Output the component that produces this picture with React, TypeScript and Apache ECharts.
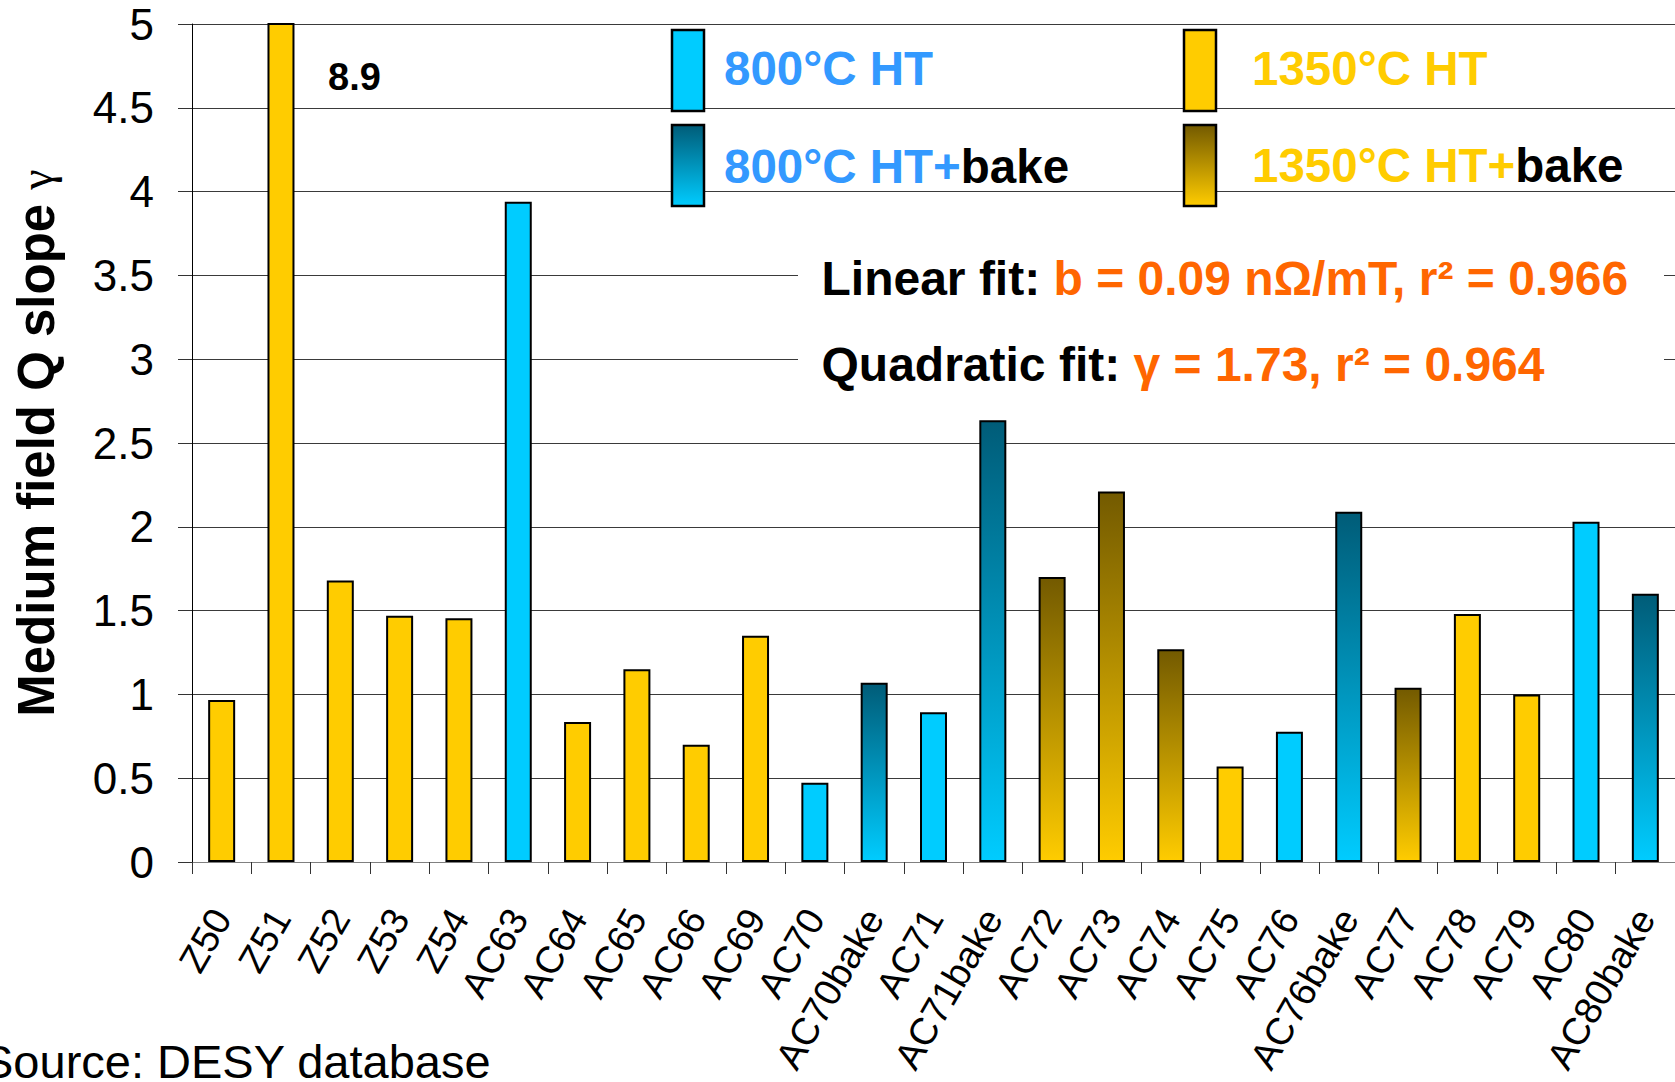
import React, { useEffect, useRef } from "react";
import * as echarts from "echarts";

const categories = [
  "Z50", "Z51", "Z52", "Z53", "Z54", "AC63", "AC64", "AC65", "AC66", "AC69",
  "AC70", "AC70bake", "AC71", "AC71bake", "AC72", "AC73", "AC74", "AC75", "AC76",
  "AC76bake", "AC77", "AC78", "AC79", "AC80", "AC80bake",
];
const slopes = [
  0.967, 8.9, 1.68, 1.47, 1.455, 3.94, 0.835, 1.15, 0.7, 1.35,
  0.473, 1.07, 0.893, 2.635, 1.7, 2.21, 1.27, 0.57, 0.777,
  2.09, 1.04, 1.48, 1.0, 2.03, 1.6,
];
const treatments = [
  "1350", "1350", "1350", "1350", "1350", "800", "1350", "1350", "1350", "1350",
  "800", "800bake", "800", "800bake", "1350bake", "1350bake", "1350bake", "1350", "800",
  "800bake", "1350bake", "1350", "1350", "800", "800bake",
];
const outOfRangeLabel = "8.9";
const legendItems = [
  { key: "800", main: "800°C HT", suffix: "" },
  { key: "800bake", main: "800°C HT+", suffix: "bake" },
  { key: "1350", main: "1350°C HT", suffix: "" },
  { key: "1350bake", main: "1350°C HT+", suffix: "bake" },
];
const linearFitLabel = "Linear fit: ";
const linearFitValue = "b = 0.09 nΩ/mT, r² = 0.966";
const quadFitLabel = "Quadratic fit: ";
const quadFitValue = "γ = 1.73, r² = 0.964";
const sourceNote = "Source: DESY database";

const FONT = "'Liberation Sans', Arial, sans-serif";
const CYAN = "#00CCFF";
const YELLOW = "#FFCC00";
const CYAN_DARK = "#005C78";
const YELLOW_DARK = "#735A00";
const BLUE_TEXT = "#3399FF";
const ORANGE = "#FF6600";

function fillFor(t: string) {
  if (t === "800") return CYAN;
  if (t === "1350") return YELLOW;
  if (t === "800bake")
    return new echarts.graphic.LinearGradient(0, 0, 0, 1, [
      { offset: 0, color: CYAN_DARK },
      { offset: 1, color: CYAN },
    ]);
  return new echarts.graphic.LinearGradient(0, 0, 0, 1, [
    { offset: 0, color: YELLOW_DARK },
    { offset: 1, color: YELLOW },
  ]);
}

export default function App() {
  const ref = useRef<HTMLDivElement>(null);
  useEffect(() => {
    if (!ref.current) return;
    const chart = echarts.init(ref.current, undefined, { renderer: "svg" });

    const barData = slopes.map((v, i) => ({
      value: v,
      itemStyle: { color: fillFor(treatments[i]), borderColor: "#000", borderWidth: 2 },
    }));

    const swatchPos = [
      { x: 672, y: 30, tx: 724, ty: 68.5 },
      { x: 672, y: 125, tx: 724, ty: 166.5 },
      { x: 1184, y: 30, tx: 1252, ty: 68.5 },
      { x: 1184, y: 125, tx: 1252, ty: 165 },
    ];
    const legendGraphics: any[] = [];
    legendItems.forEach((it, i) => {
      const p = swatchPos[i];
      legendGraphics.push({
        type: "rect",
        z: 20,
        shape: { x: p.x, y: p.y, width: 32, height: 81 },
        style: { fill: fillFor(it.key), stroke: "#000", lineWidth: 2.5 },
      });
      const col = it.key.startsWith("800") ? BLUE_TEXT : YELLOW;
      legendGraphics.push({
        type: "text",
        z: 20,
        x: p.tx,
        y: p.ty,
        style: {
          text: `{m|${it.main}}` + (it.suffix ? `{s|${it.suffix}}` : ""),
          verticalAlign: "middle",
          align: "left",
          rich: {
            m: { fontFamily: FONT, fontWeight: "bold", fontSize: 47.5, fill: col },
            s: { fontFamily: FONT, fontWeight: "bold", fontSize: 47.5, fill: "#000" },
          },
        },
      });
    });

    const option: any = {
      animation: false,
      backgroundColor: "#fff",
      grid: { left: 192, right: 0, top: 24, bottom: 220, containLabel: false },
      xAxis: {
        type: "category",
        data: categories,
        axisLine: { lineStyle: { color: "#808080", width: 1 } },
        axisTick: { show: true, length: 12, lineStyle: { color: "#333" } },
        axisLabel: {
          rotate: 60,
          interval: 0,
          fontSize: 38,
          color: "#000",
          fontFamily: FONT,
          margin: 50,
        },
      },
      yAxis: {
        type: "value",
        min: 0,
        max: 5,
        interval: 0.5,
        axisLine: { show: true, lineStyle: { color: "#000", width: 1 } },
        axisTick: { show: true, length: 14, lineStyle: { color: "#333" } },
        splitLine: { show: true, lineStyle: { color: "#3a3a3a", width: 1 } },
        axisLabel: { fontSize: 44, color: "#000", fontFamily: FONT, margin: 38 },
        name: "{b|Medium field Q slope }{g|γ}",
        nameLocation: "middle",
        nameGap: 130,
        nameTextStyle: {
          rich: {
            b: { fontFamily: FONT, fontWeight: "bold", fontSize: 51, color: "#000" },
            g: { fontFamily: "'Liberation Serif', serif", fontSize: 46, color: "#000" },
          },
        },
      },
      series: [
        {
          type: "bar",
          data: barData,
          barWidth: 27,
          clip: true,
        },
      ],
      graphic: [
        {
          type: "rect",
          z: 10,
          shape: { x: 798, y: 242, width: 866, height: 156 },
          style: { fill: "#fff" },
        },
        {
          type: "text",
          z: 20,
          x: 821.5,
          y: 278,
          style: {
            text: `{k|${linearFitLabel}}{o|${linearFitValue}}`,
            verticalAlign: "middle",
            rich: {
              k: { fontFamily: FONT, fontWeight: "bold", fontSize: 48, fill: "#000" },
              o: { fontFamily: FONT, fontWeight: "bold", fontSize: 48, fill: ORANGE },
            },
          },
        },
        {
          type: "text",
          z: 20,
          x: 821.5,
          y: 364,
          style: {
            text: `{k|${quadFitLabel}}{o|${quadFitValue}}`,
            verticalAlign: "middle",
            rich: {
              k: { fontFamily: FONT, fontWeight: "bold", fontSize: 48, fill: "#000" },
              o: { fontFamily: FONT, fontWeight: "bold", fontSize: 48, fill: ORANGE },
            },
          },
        },
        {
          type: "text",
          z: 20,
          x: 328,
          y: 77,
          style: {
            text: outOfRangeLabel,
            verticalAlign: "middle",
            fontFamily: FONT,
            fontWeight: "bold",
            fontSize: 38,
            fill: "#000",
          },
        },
        {
          type: "text",
          z: 20,
          x: -18,
          y: 1061,
          style: {
            text: sourceNote,
            verticalAlign: "middle",
            fontFamily: FONT,
            fontSize: 47,
            fill: "#000",
          },
        },
        ...legendGraphics,
      ],
    };
    chart.setOption(option);
    return () => chart.dispose();
  }, []);

  return (
    <div
      ref={ref}
      style={{ position: "absolute", left: 0, top: 0, width: 1675, height: 1082, background: "#fff" }}
    />
  );
}
